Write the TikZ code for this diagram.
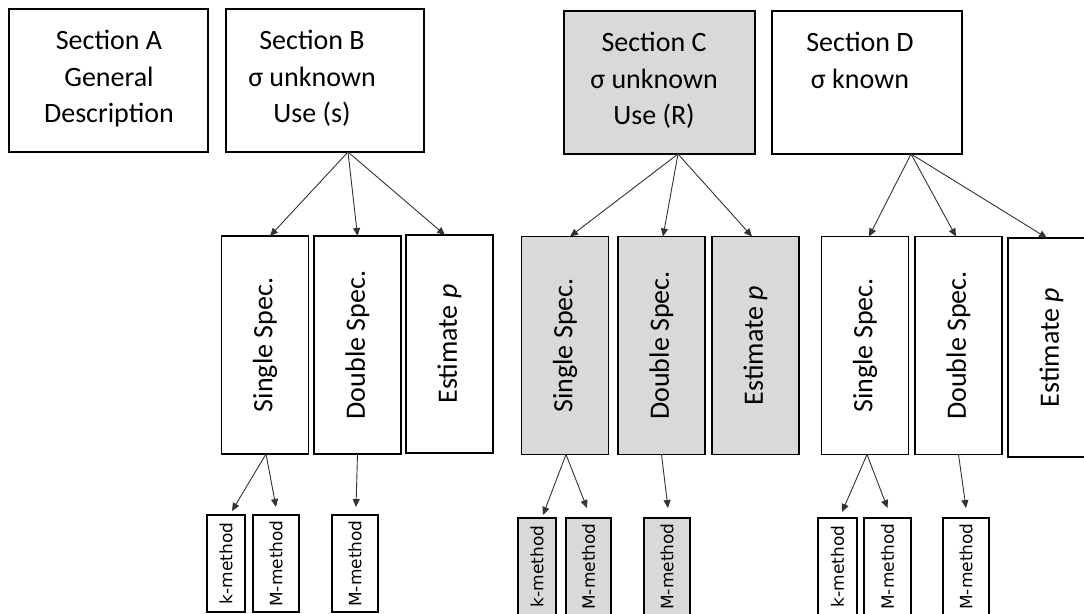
\documentclass[tikz,border=0pt]{standalone}
\usepackage{fontspec}
\setmainfont{Carlito}
\newfontfamily\dejavu{DejaVu Sans}
\usetikzlibrary{arrows.meta}
\definecolor{boxgray}{HTML}{D9D9D9}
\definecolor{arrowgray}{HTML}{333333}
\begin{document}
\begin{tikzpicture}[x=1pt,y=-1pt,
  box/.style={draw=black, line width=1.6pt, inner sep=0pt, outer sep=0pt},
  shaded/.style={fill=boxgray},
  toptext/.style={anchor=north, align=center, inner sep=0pt, font=\fontsize{28}{36.5}\selectfont},
  midbox/.style={box, minimum width=87pt, minimum height=218pt},
  midtext/.style={rotate=90, inner sep=0pt, font=\fontsize{28}{34}\selectfont},
  botbox/.style={box, minimum height=97pt},
  bottext/.style={rotate=90, inner sep=0pt, font=\dejavu\fontsize{17}{20}\selectfont},
  link/.style={draw=arrowgray, line width=0.9pt, -{Triangle[length=8pt,width=7pt]}}
]
\useasboundingbox (0,0) rectangle (1084,613);
\clip (0,0) rectangle (1084,613);

% top boxes
\node[box, minimum width=199pt, minimum height=143pt] (A) at (108.5,80.5) {};
\node[toptext] (At) at (109,30) {Section A\\General\\Description};
\node[box, minimum width=198pt, minimum height=143pt] (B) at (325,80.5) {};
\node[toptext] (Bt) at (312,30) {Section B\\σ unknown\\Use (s)};
\node[box, shaded, minimum width=191pt, minimum height=143pt] (C) at (659.5,82.5) {};
\node[toptext] (Ct) at (654,32) {Section C\\σ unknown\\Use (R)};
\node[box, minimum width=190pt, minimum height=143pt] (D) at (867,82.5) {};
\node[toptext] (Dt) at (860,32) {Section D\\σ known};

% middle boxes
\node[midbox] (S1) at (265,345) {};
\node[midtext] (S1t) at (S1) {Single Spec.};
\node[midbox] (D1) at (357.5,345) {};
\node[midtext] (D1t) at (D1) {Double Spec.};
\node[midbox] (E1) at (449.5,344) {};
\node[midtext] (E1t) at (E1) {Estimate \textit{p}};

\node[midbox, shaded] (S2) at (565,345.5) {};
\node[midtext] (S2t) at (S2) {Single Spec.};
\node[midbox, shaded] (D2) at (661.5,345.5) {};
\node[midtext] (D2t) at (D2) {Double Spec.};
\node[midbox, shaded] (E2) at (755.5,345.5) {};
\node[midtext] (E2t) at (E2) {Estimate \textit{p}};

\node[midbox] (S3) at (865,345.5) {};
\node[midtext] (S3t) at (S3) {Single Spec.};
\node[midbox] (D3) at (958.5,345.5) {};
\node[midtext] (D3t) at (D3) {Double Spec.};
\node[midbox, minimum height=219pt] (E3) at (1051.5,347.5) {};
\node[midtext] (E3t) at (E3) {Estimate \textit{p}};

% bottom boxes
\node[botbox, minimum width=38pt] (k1) at (226,563.5) {};
\node[bottext] (k1t) at (k1) {k-method};
\node[botbox, minimum width=46pt] (M1) at (276,563.5) {};
\node[bottext] (M1t) at (M1) {M-method};
\node[botbox, minimum width=46pt] (Mm1) at (355,563.5) {};
\node[bottext] (Mm1t) at (Mm1) {M-method};

\node[botbox, shaded, minimum width=38pt] (k2) at (537,566.5) {};
\node[bottext] (k2t) at (k2) {k-method};
\node[botbox, shaded, minimum width=45pt] (M2) at (588.5,566.5) {};
\node[bottext] (M2t) at (M2) {M-method};
\node[botbox, shaded, minimum width=46pt] (Mm2) at (667,566.5) {};
\node[bottext] (Mm2t) at (Mm2) {M-method};

\node[botbox, minimum width=39pt] (k3) at (837.5,566.5) {};
\node[bottext] (k3t) at (k3) {k-method};
\node[botbox, minimum width=47pt] (M3) at (887.5,566.5) {};
\node[bottext] (M3t) at (M3) {M-method};
\node[botbox, minimum width=46pt] (Mm3) at (966,566.5) {};
\node[bottext] (Mm3t) at (Mm3) {M-method};

% arrows top -> middle
\draw[link] ([xshift=23pt]B.south) -- ([xshift=5pt]S1.north);
\draw[link] ([xshift=23pt]B.south) -- (D1.north);
\draw[link] ([xshift=23pt]B.south) -- ([xshift=-4.5pt]E1.north);

\draw[link] ([xshift=18.5pt]C.south) -- ([xshift=5pt]S2.north);
\draw[link] ([xshift=18.5pt]C.south) -- ([xshift=1.5pt]D2.north);
\draw[link] ([xshift=18.5pt]C.south) -- ([xshift=-3.5pt]E2.north);

\draw[link] ([xshift=44pt]D.south) -- ([xshift=4pt]S3.north);
\draw[link] ([xshift=44pt]D.south) -- ([xshift=-2.5pt]D3.north);
\draw[link] ([xshift=44pt]D.south) -- ([xshift=-4.5pt]E3.north);

% arrows middle -> bottom
\draw[link] ([xshift=1pt]S1.south) -- ([xshift=6pt,yshift=4pt]k1.north);
\draw[link] ([xshift=1pt]S1.south) -- ([yshift=8pt]M1.north);
\draw[link] (D1.south) -- ([xshift=1pt,yshift=8pt]Mm1.north);

\draw[link] ([xshift=1pt]S2.south) -- ([xshift=6pt,yshift=3pt]k2.north);
\draw[link] ([xshift=1pt]S2.south) -- ([xshift=-1.5pt,yshift=10pt]M2.north);
\draw[link] (D2.south) -- ([xshift=1pt,yshift=10pt]Mm2.north);

\draw[link] ([xshift=2pt]S3.south) -- ([xshift=4.5pt,yshift=6pt]k3.north);
\draw[link] ([xshift=2pt]S3.south) -- ([yshift=10pt]M3.north);
\draw[link] (D3.south) -- ([yshift=10pt]Mm3.north);
\end{tikzpicture}
\end{document}
